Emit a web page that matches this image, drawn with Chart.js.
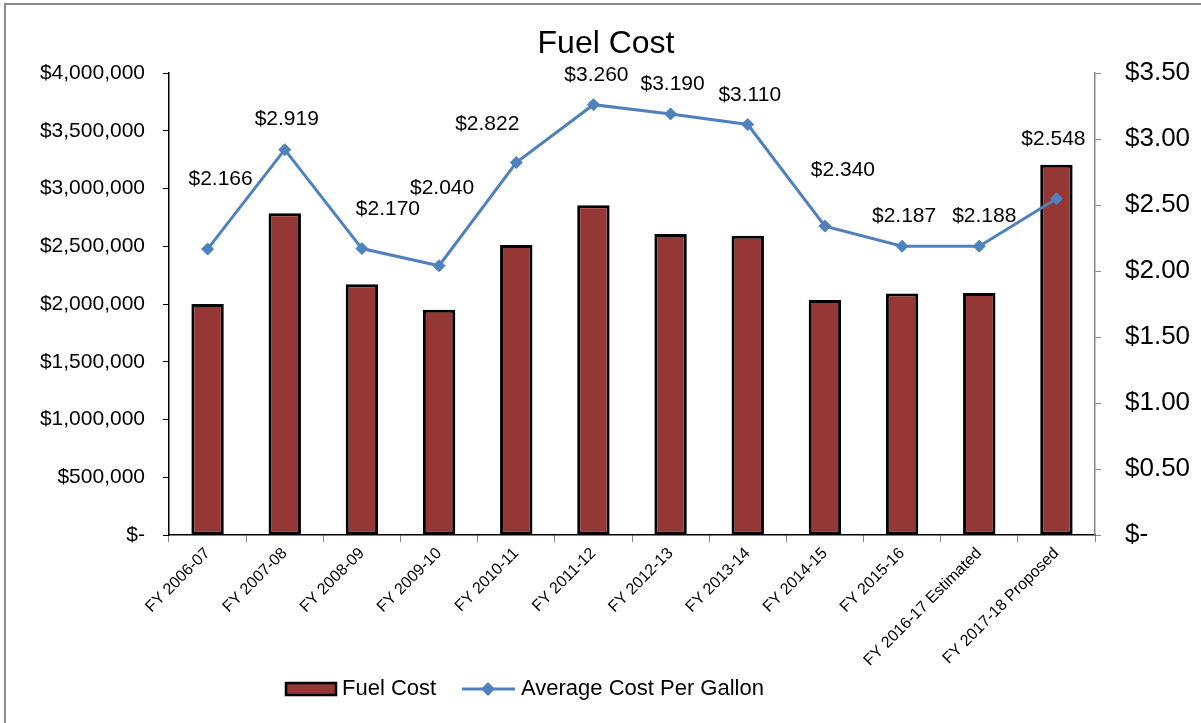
<!DOCTYPE html>
<html>
<head>
<meta charset="utf-8">
<script src="https://cdn.jsdelivr.net/npm/chart.js@4/dist/chart.umd.min.js"></script>
<style>
  body { margin: 0; background: #fff; }
  canvas { display: block; }
</style>
</head>
<body>
<canvas id="fuelChart" width="1201" height="723"></canvas>
<script>
const years = [
  "FY 2006-07", "FY 2007-08", "FY 2008-09", "FY 2009-10", "FY 2010-11", "FY 2011-12",
  "FY 2012-13", "FY 2013-14", "FY 2014-15", "FY 2015-16", "FY 2016-17 Estimated", "FY 2017-18 Proposed"
];
const fuelCost = [2000000, 2785000, 2170000, 1950000, 2510000, 2855000, 2605000, 2590000, 2035000, 2090000, 2095000, 3205000];
const costPerGallon = [2.166, 2.919, 2.170, 2.040, 2.822, 3.260, 3.190, 3.110, 2.340, 2.187, 2.188, 2.548];
const costTicks = [0, 500000, 1000000, 1500000, 2000000, 2500000, 3000000, 3500000, 4000000];
const priceTicks = [0, 0.5, 1, 1.5, 2, 2.5, 3, 3.5];

// label nudges (px) so the price labels sit where they do in the original
const labelNudge = [[13, -70], [2, -30], [26, -39], [3, -78], [-29, -38], [3, -29],
                    [2, -30], [2, -29], [18, -56], [2, -30], [5, -30], [-3, -59]];

const FONT = "'Liberation Sans', Arial, sans-serif";
const BAR_RED = "#953735";
const LINE_BLUE = "#4F81BD";

const money = (v) => v === 0 ? "$-" : "$" + v.toLocaleString("en-US");
const dollars = (v) => v === 0 ? "$-" : "$" + v.toFixed(2);

const extras = {
  id: "extras",
  beforeDraw(chart) {
    const ctx = chart.ctx;
    ctx.save();
    ctx.strokeStyle = "#8a8a8a";
    ctx.lineWidth = 2;
    ctx.strokeRect(5, 4, 1210, 740);
    // title
    ctx.fillStyle = "#000";
    ctx.font = "32px " + FONT;
    ctx.textAlign = "center";
    ctx.textBaseline = "middle";
    ctx.fillText("Fuel Cost", 606, 44);
    ctx.restore();
  },
  afterDatasetsDraw(chart) {
    const ctx = chart.ctx;
    const meta = chart.getDatasetMeta(1);
    ctx.save();
    ctx.fillStyle = "#000";
    ctx.font = "21px " + FONT;
    ctx.textAlign = "center";
    ctx.textBaseline = "middle";
    meta.data.forEach((pt, i) => {
      ctx.fillText("$" + costPerGallon[i].toFixed(3), pt.x + labelNudge[i][0], pt.y + labelNudge[i][1]);
    });

    // legend
    const ly = 689;
    ctx.fillStyle = BAR_RED;
    ctx.strokeStyle = "#000";
    ctx.lineWidth = 2.5;
    ctx.fillRect(286, ly - 6, 50, 12);
    ctx.strokeRect(286, ly - 6, 50, 12);
    ctx.font = "22px " + FONT;
    ctx.textAlign = "left";
    ctx.fillStyle = "#000";
    ctx.fillText("Fuel Cost", 342, ly);

    ctx.strokeStyle = LINE_BLUE;
    ctx.lineWidth = 3;
    ctx.beginPath();
    ctx.moveTo(462, ly);
    ctx.lineTo(515, ly);
    ctx.stroke();
    ctx.fillStyle = LINE_BLUE;
    ctx.beginPath();
    ctx.moveTo(488, ly - 7);
    ctx.lineTo(495, ly);
    ctx.lineTo(488, ly + 7);
    ctx.lineTo(481, ly);
    ctx.closePath();
    ctx.fill();
    ctx.fillStyle = "#000";
    ctx.fillText("Average Cost Per Gallon", 521, ly);
    ctx.restore();
  }
};

new Chart(document.getElementById("fuelChart"), {
  type: "bar",
  data: {
    labels: years,
    datasets: [
      {
        type: "bar",
        label: "Fuel Cost",
        data: fuelCost,
        yAxisID: "y",
        backgroundColor: BAR_RED,
        borderColor: "#000",
        borderWidth: 3,
        borderSkipped: false,
        categoryPercentage: 1,
        barPercentage: 0.42,
        order: 1
      },
      {
        type: "line",
        label: "Average Cost Per Gallon",
        data: costPerGallon,
        yAxisID: "y1",
        borderColor: LINE_BLUE,
        backgroundColor: LINE_BLUE,
        borderWidth: 3,
        pointStyle: "rectRot",
        pointRadius: 6,
        pointBorderWidth: 1,
        tension: 0,
        order: 0
      }
    ]
  },
  options: {
    responsive: false,
    animation: false,
    layout: { padding: { top: 73 } },
    plugins: {
      legend: { display: false },
      tooltip: { enabled: false },
      title: { display: false }
    },
    scales: {
      x: {
        offset: true,
        grid: { offset: true, drawOnChartArea: false, tickLength: 7, color: "#888" },
        border: { color: "#000", width: 1.5 },
        ticks: {
          color: "#000",
          font: { family: FONT, size: 16 },
          minRotation: 45,
          maxRotation: 45,
          autoSkip: false,
          padding: 2
        },
        afterFit: (scale) => { scale.height = 188; }
      },
      y: {
        position: "left",
        min: 0,
        max: 4000000,
        grid: { drawOnChartArea: false, tickLength: 6, color: "#000" },
        border: { color: "#000", width: 1.5 },
        ticks: {
          color: "#000",
          font: { family: FONT, size: 21 },
          padding: 18,
          callback: (v) => money(v)
        },
        afterBuildTicks: (scale) => { scale.ticks = costTicks.map((v) => ({ value: v })); },
        afterFit: (scale) => { scale.width = 169; }
      },
      y1: {
        position: "right",
        min: 0,
        max: 3.5,
        grid: { drawOnChartArea: false, tickLength: 6, color: "#888" },
        border: { color: "#888", width: 1.5 },
        ticks: {
          color: "#000",
          font: { family: FONT, size: 26 },
          padding: 24,
          callback: (v) => dollars(v)
        },
        afterBuildTicks: (scale) => { scale.ticks = priceTicks.map((v) => ({ value: v })); },
        afterFit: (scale) => { scale.width = 106; }
      }
    }
  },
  plugins: [extras]
});
</script>
</body>
</html>
